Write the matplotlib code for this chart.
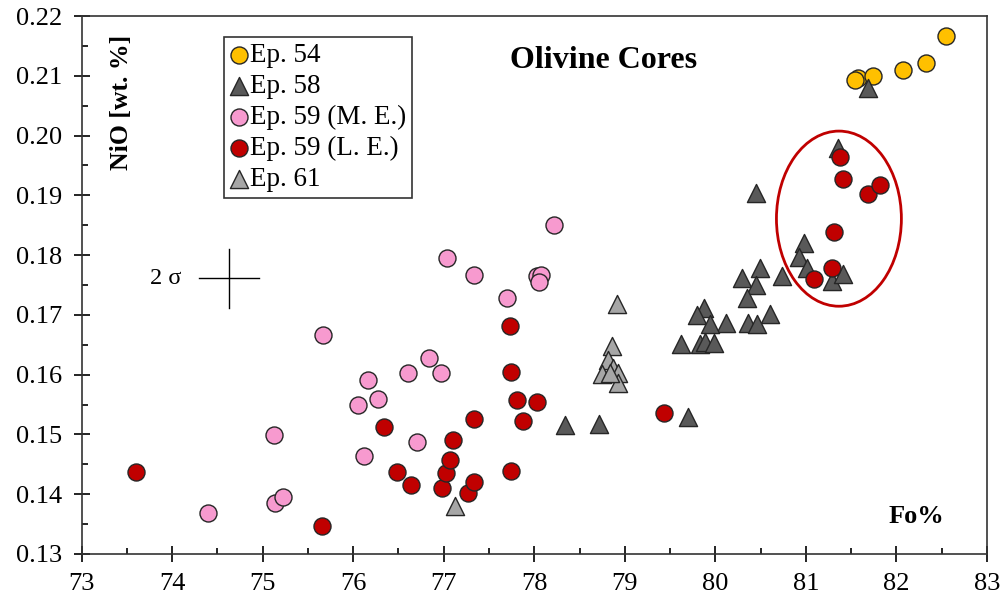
import matplotlib
matplotlib.use("Agg")
import matplotlib.pyplot as plt
from matplotlib.patches import Ellipse
from matplotlib.ticker import MultipleLocator, FormatStrFormatter

plt.rcParams['font.family'] = ['Liberation Serif', 'DejaVu Serif']

# Fo% / NiO wt.% for each eruption
ep54_fo = [81.58, 81.54, 81.74, 82.07, 82.33, 82.55]
ep54_nio = [0.2097, 0.2093, 0.2100, 0.2110, 0.2121, 0.2167]

ep58_fo = [81.69, 81.36, 80.45, 80.98, 80.92, 81.01, 81.29, 81.41,
           80.74, 80.49, 80.30, 80.45, 80.35, 80.60, 80.36, 80.46,
           80.12, 79.87, 79.80, 79.94, 79.62, 79.83, 79.89, 79.98,
           78.34, 78.71, 79.70]
ep58_nio = [0.2080, 0.1979, 0.1904, 0.1820, 0.1797, 0.1778, 0.1757, 0.1768,
            0.1765, 0.1778, 0.1762, 0.1750, 0.1728, 0.1701, 0.1686, 0.1685,
            0.1686, 0.1712, 0.1700, 0.1685, 0.1651, 0.1651, 0.1655, 0.1653,
            0.1516, 0.1517, 0.1529]

ep59me_fo = [74.40, 75.13, 75.14, 75.23, 75.67, 76.05, 76.16, 76.27,
             76.12, 76.61, 76.84, 76.97, 76.71, 77.04, 77.34, 77.70,
             78.03, 78.08, 78.05, 78.22]
ep59me_nio = [0.1369, 0.1499, 0.1385, 0.1396, 0.1666, 0.1550, 0.1591, 0.1559,
              0.1464, 0.1603, 0.1628, 0.1603, 0.1487, 0.1795, 0.1767, 0.1728,
              0.1765, 0.1767, 0.1755, 0.1850]

ep59le_fo = [73.60, 75.66, 76.34, 76.48, 76.64, 76.98, 77.03, 77.07,
             77.10, 77.27, 77.33, 77.34, 77.73, 77.74, 77.81, 78.03,
             77.88, 77.74, 79.43, 81.38, 81.41, 81.69, 81.82, 81.31,
             81.29, 81.09]
ep59le_nio = [0.1437, 0.1347, 0.1512, 0.1437, 0.1416, 0.1410, 0.1435, 0.1458,
              0.1491, 0.1402, 0.1420, 0.1526, 0.1681, 0.1604, 0.1558, 0.1554,
              0.1523, 0.1439, 0.1536, 0.1964, 0.1927, 0.1902, 0.1917, 0.1839,
              0.1779, 0.1760]

ep61_fo = [77.12, 78.91, 78.86, 78.81, 78.75, 78.87, 78.93, 78.93, 78.84]
ep61_nio = [0.1380, 0.1718, 0.1648, 0.1625, 0.1601, 0.1611, 0.1603, 0.1586, 0.1603]

fig = plt.figure(figsize=(10.03, 5.98), dpi=100)
ax = fig.add_axes([0.0813, 0.0736, 0.9027, 0.8996])

ec = '#262626'
ax.scatter(ep54_fo, ep54_nio, s=150, marker='o', c='#FFC000', edgecolors=ec, linewidths=1, label='Ep. 54', zorder=3)
ax.scatter(ep58_fo, ep58_nio, s=170, marker='^', c='#595959', edgecolors=ec, linewidths=1, label='Ep. 58', zorder=3)
ax.scatter(ep59me_fo, ep59me_nio, s=150, marker='o', c='#F79ACF', edgecolors=ec, linewidths=1, label='Ep. 59 (M. E.)', zorder=3)
ax.scatter(ep59le_fo, ep59le_nio, s=150, marker='o', c='#C00000', edgecolors=ec, linewidths=1, label='Ep. 59 (L. E.)', zorder=3)
ax.scatter(ep61_fo, ep61_nio, s=170, marker='^', c='#A6A6A6', edgecolors=ec, linewidths=1, label='Ep. 61', zorder=3)

# group of high-Fo late-eruption cores
ax.add_patch(Ellipse((81.365, 0.1861), 1.38, 0.0293, fill=False, edgecolor='#C00000', linewidth=2, zorder=4))

# 2 sigma error cross
ax.plot([74.30, 74.96], [0.1761, 0.1761], color='black', lw=1)
ax.plot([74.63, 74.63], [0.1712, 0.1810], color='black', lw=1)
ax.text(73.93, 0.1761, '2 σ', fontsize=17.5, ha='center', va='center')

ax.set_xlim(73, 83)
ax.set_ylim(0.13, 0.22)
ax.xaxis.set_major_locator(MultipleLocator(1))
ax.xaxis.set_minor_locator(MultipleLocator(0.5))
ax.yaxis.set_major_locator(MultipleLocator(0.01))
ax.yaxis.set_minor_locator(MultipleLocator(0.005))
ax.yaxis.set_major_formatter(FormatStrFormatter('%.2f'))
ax.tick_params(which='major', direction='inout', length=11.5, width=1.2, labelsize=19, pad=8)
ax.tick_params(which='minor', direction='in', length=4.5, width=1.2)
for s in ax.spines.values():
    s.set_linewidth(1.2)
    s.set_color('#333333')

ax.text(78.77, 0.2126, 'Olivine Cores', fontsize=23, fontweight='bold', ha='center', va='center')
ax.text(82.22, 0.1363, 'Fo%', fontsize=19, fontweight='bold', ha='center', va='center')
ax.text(73.44, 0.2056, 'NiO [wt. %]', fontsize=18.5, fontweight='bold', rotation=90, ha='center', va='center')

leg = ax.legend(loc='upper left', bbox_to_anchor=(0.157, 0.961), fontsize=19.5, frameon=True,
                fancybox=False, edgecolor='black', handletextpad=0.05, handlelength=0.7,
                labelspacing=0.22, borderpad=0.22, borderaxespad=0)
leg.get_frame().set_linewidth(1.2)

fig.savefig('out.png', dpi=100)
